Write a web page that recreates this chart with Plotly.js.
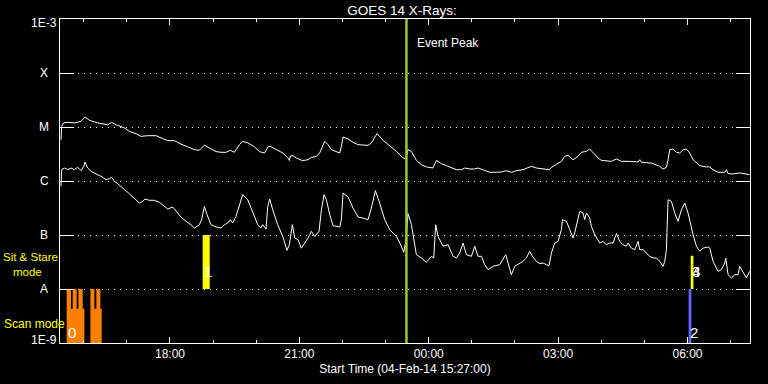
<!DOCTYPE html>
<html>
<head>
<meta charset="utf-8">
<script src="https://cdn.plot.ly/plotly-3.0.1.min.js"></script>
<style>html,body{margin:0;padding:0;background:#000;}#chart{width:768px;height:384px;}</style>
</head>
<body>
<div id="chart"></div>
<script>
// ---- data (time in minutes after start 2014-02-04 15:27:00 UT, flux in W/m^2) ----
const startTime = '2014-02-04 15:27:00';
const endTime = '2014-02-05 07:27:00';
const eventPeakTime = '2014-02-04 23:29:00';

const longMin = [1.4, 2.4, 5.1, 10.7, 20.0, 29.3, 34.8, 40.9, 52.5, 66.4, 72.0, 78.0, 89.6, 96.5, 105.8, 112.7, 122.0, 133.6, 140.6, 149.9, 159.1, 168.4, 177.7, 187.0, 193.9, 200.9, 207.8, 217.1, 224.1, 231.0, 237.0, 242.6, 249.6, 254.2, 261.2, 270.4, 277.4, 284.4, 290.0, 293.6, 302.9, 309.9, 316.9, 319.1, 320.5, 324.2, 328.9, 337.2, 345.1, 349.7, 356.7, 361.3, 368.3, 372.9, 377.6, 389.2, 391.5, 393.8, 400.8, 407.7, 414.7, 428.6, 433.2, 441.1, 449.5, 458.7, 468.0, 476.4, 481.0, 484.3, 488.9, 495.8, 502.8, 509.8, 519.0, 523.7, 530.6, 537.6, 544.5, 551.5, 558.4, 563.1, 570.1, 577.0, 581.6, 588.6, 597.9, 607.2, 614.1, 621.1, 628.0, 635.0, 639.6, 644.2, 648.9, 655.8, 662.8, 672.1, 680.4, 686.0, 692.9, 697.6, 702.2, 706.9, 713.8, 720.8, 725.4, 732.4, 737.0, 741.6, 748.6, 753.2, 760.2, 767.1, 774.1, 781.1, 792.7, 804.2, 806.6, 808.9, 822.8, 829.8, 834.4, 839.0, 843.7, 846.0, 848.3, 853.0, 857.6, 862.2, 866.9, 871.5, 876.1, 880.8, 890.0, 899.3, 903.9, 908.6, 915.6, 924.8, 927.2, 929.5, 936.5, 945.8, 955.0, 959.6];
const longFlux = [5.8e-6, 1.03e-5, 1.19e-5, 1.22e-5, 1.19e-5, 1.27e-5, 1.53e-5, 1.33e-5, 1.19e-5, 1.10e-5, 1.22e-5, 1.10e-5, 9.6e-6, 8.3e-6, 7.5e-6, 6.7e-6, 6.9e-6, 6.9e-6, 6.3e-6, 5.6e-6, 5.6e-6, 4.8e-6, 4.3e-6, 3.8e-6, 3.7e-6, 4.6e-6, 4.1e-6, 3.5e-6, 3.4e-6, 3.4e-6, 3.7e-6, 3.4e-6, 4.7e-6, 5.4e-6, 5.1e-6, 4.3e-6, 3.5e-6, 3.3e-6, 4.4e-6, 4.3e-6, 3.7e-6, 3.3e-6, 2.7e-6, 2.4e-6, 2.9e-6, 2.94e-6, 2.67e-6, 2.38e-6, 2.48e-6, 2.74e-6, 2.86e-6, 3.30e-6, 5.43e-6, 4.71e-6, 3.80e-6, 3.30e-6, 4.39e-6, 6.53e-6, 6.0e-6, 5.2e-6, 4.71e-6, 4.57e-6, 5.06e-6, 7.53e-6, 5.66e-6, 4.51e-6, 3.54e-6, 2.74e-6, 2.56e-6, 3.80e-6, 3.54e-6, 2.41e-6, 2.01e-6, 1.82e-6, 1.74e-6, 2.41e-6, 2.09e-6, 1.92e-6, 1.74e-6, 1.62e-6, 1.62e-6, 1.74e-6, 1.67e-6, 1.67e-6, 1.74e-6, 1.62e-6, 1.45e-6, 1.45e-6, 1.47e-6, 1.55e-6, 1.45e-6, 1.55e-6, 1.58e-6, 1.62e-6, 1.72e-6, 1.87e-6, 1.74e-6, 1.69e-6, 1.62e-6, 1.87e-6, 2.15e-6, 2.31e-6, 2.86e-6, 2.99e-6, 2.48e-6, 2.86e-6, 3.40e-6, 3.54e-6, 3.91e-6, 3.30e-6, 2.67e-6, 2.41e-6, 2.38e-6, 2.31e-6, 2.56e-6, 2.31e-6, 2.31e-6, 2.25e-6, 2.48e-6, 2.22e-6, 2.15e-6, 2.01e-6, 1.87e-6, 1.67e-6, 1.79e-6, 2.48e-6, 3.80e-6, 3.91e-6, 3.40e-6, 3.30e-6, 3.80e-6, 3.91e-6, 3.30e-6, 2.48e-6, 1.92e-6, 1.82e-6, 1.82e-6, 1.62e-6, 1.45e-6, 1.45e-6, 1.62e-6, 1.37e-6, 1.35e-6, 1.41e-6, 1.35e-6, 1.31e-6];

const shortMin = [1.4, 2.4, 6.1, 10.7, 15.4, 20.0, 24.6, 29.3, 33.0, 34.8, 38.5, 43.2, 50.1, 57.1, 64.1, 68.7, 71.9, 75.6, 80.3, 84.9, 89.6, 96.5, 103.5, 110.4, 115.1, 118.3, 124.3, 131.3, 138.3, 145.2, 149.9, 156.8, 161.5, 168.4, 175.4, 182.3, 187.0, 193.9, 197.1, 200.9, 204.6, 210.1, 217.1, 224.1, 228.7, 233.3, 237.0, 240.3, 244.9, 249.6, 254.2, 261.2, 268.1, 275.1, 279.7, 282.0, 286.7, 289.0, 291.8, 295.9, 302.9, 309.9, 315.9, 319.1, 323.3, 326.6, 331.2, 335.8, 340.5, 345.1, 349.7, 354.4, 360.4, 363.7, 367.4, 370.6, 375.3, 379.9, 389.2, 391.5, 393.8, 400.8, 407.7, 414.7, 421.6, 428.6, 433.2, 438.8, 444.8, 451.8, 458.7, 468.0, 475.0, 478.2, 481.0, 484.3, 488.9, 495.8, 502.8, 509.8, 516.7, 520.0, 522.7, 526.0, 532.9, 539.9, 546.9, 551.5, 556.1, 560.8, 565.4, 572.4, 577.0, 581.6, 586.3, 590.9, 595.6, 602.5, 611.8, 620.1, 623.4, 628.0, 632.7, 639.6, 644.2, 648.9, 653.5, 657.2, 662.8, 667.4, 672.1, 676.7, 680.4, 683.7, 688.3, 692.9, 697.6, 699.0, 704.5, 709.2, 713.8, 716.1, 720.8, 723.1, 727.7, 730.0, 732.4, 737.0, 739.3, 744.0, 750.9, 755.6, 760.2, 764.8, 769.5, 774.1, 778.7, 783.4, 788.0, 790.3, 795.0, 799.6, 804.3, 806.6, 811.2, 815.9, 820.5, 825.1, 829.8, 834.4, 839.0, 841.4, 843.7, 846.0, 850.6, 855.3, 859.9, 864.6, 869.2, 873.8, 878.5, 880.8, 885.4, 890.1, 894.7, 901.6, 904.0, 908.6, 915.6, 920.2, 924.9, 926.2, 929.5, 934.1, 938.8, 943.4, 945.7, 950.4, 955.0, 959.6];
const shortFlux = [7.96e-7, 1.62e-6, 1.74e-6, 1.62e-6, 1.74e-6, 1.62e-6, 1.79e-6, 1.55e-6, 1.87e-6, 2.25e-6, 1.74e-6, 1.51e-6, 1.35e-6, 1.22e-6, 1.06e-6, 1.10e-6, 1.17e-6, 9.86e-7, 8.93e-7, 7.74e-7, 6.91e-7, 5.83e-7, 4.84e-7, 3.91e-7, 4.20e-7, 4.64e-7, 4.39e-7, 4.39e-7, 4.03e-7, 3.40e-7, 3.03e-7, 3.30e-7, 2.74e-7, 2.15e-7, 1.79e-7, 1.55e-7, 1.35e-7, 1.55e-7, 1.92e-7, 3.40e-7, 2.38e-7, 1.55e-7, 1.41e-7, 1.35e-7, 1.55e-7, 1.67e-7, 1.92e-7, 1.67e-7, 2.22e-7, 3.65e-7, 5.58e-7, 4.51e-7, 2.74e-7, 1.55e-7, 1.35e-7, 1.55e-7, 1.29e-7, 3.40e-7, 4.64e-7, 2.94e-7, 1.55e-7, 9.4e-8, 5.2e-8, 6.6e-8, 1.55e-7, 8.8e-8, 8.2e-8, 5.7e-8, 7.1e-8, 8.8e-8, 1.17e-7, 9.4e-8, 1.17e-7, 2.94e-7, 5.58e-7, 4.51e-7, 2.38e-7, 1.49e-7, 1.41e-7, 1.92e-7, 6.0e-7, 5.06e-7, 3.16e-7, 2.15e-7, 2.06e-7, 1.92e-7, 3.16e-7, 6.62e-7, 3.91e-7, 1.92e-7, 1.26e-7, 9.4e-8, 6.2e-8, 4.78e-8, 7.6e-8, 2.48e-7, 1.55e-7, 4.32e-8, 3.75e-8, 3.12e-8, 4.03e-8, 3.75e-8, 1.55e-7, 9.4e-8, 6.2e-8, 6.6e-8, 4.03e-8, 3.75e-8, 4.64e-8, 7.1e-8, 4.32e-8, 4.03e-8, 6.2e-8, 4.03e-8, 4.03e-8, 2.82e-8, 2.28e-8, 2.63e-8, 2.82e-8, 4.32e-8, 3.03e-8, 1.84e-8, 2.63e-8, 3.03e-8, 3.25e-8, 3.75e-8, 4.99e-8, 4.03e-8, 3.25e-8, 2.94e-8, 3.03e-8, 2.82e-8, 2.71e-8, 4.64e-8, 7.1e-8, 7.6e-8, 1.26e-7, 1.92e-7, 1.79e-7, 1.26e-7, 8.8e-8, 1.09e-7, 1.92e-7, 2.74e-7, 2.56e-7, 1.92e-7, 2.56e-7, 2.06e-7, 1.45e-7, 1.01e-7, 7.1e-8, 7.6e-8, 6.6e-8, 7.1e-8, 7.1e-8, 1.06e-7, 7.6e-8, 6.6e-8, 6.2e-8, 7.1e-8, 5.7e-8, 5.35e-8, 7.6e-8, 5.35e-8, 5.35e-8, 4.64e-8, 4.03e-8, 3.75e-8, 3.75e-8, 3.25e-8, 2.63e-8, 3.25e-8, 5.35e-8, 4.51e-7, 4.20e-7, 2.56e-7, 1.79e-7, 2.94e-7, 3.91e-7, 2.56e-7, 1.35e-7, 1.01e-7, 6.2e-8, 4.99e-8, 5.7e-8, 6.0e-8, 5.7e-8, 3.25e-8, 2.12e-8, 2.28e-8, 3.03e-8, 3.75e-8, 1.84e-8, 1.60e-8, 1.84e-8, 1.84e-8, 2.63e-8, 1.98e-8, 1.60e-8, 2.12e-8];

// observing-mode blocks: start/end minute, top flux (bottom is 1E-9)
const scanStart = [9.3, 17.7, 25.6, 42.3, 50.6, 9.3, 42.3];
const scanEnd   = [15.3, 23.2, 31.6, 47.9, 56.2, 33.9, 58.0];
const scanTop   = [1e-8, 1e-8, 1e-8, 1e-8, 1e-8, 4.3e-9, 4.3e-9];
const sitStart = [198.5, 877.5, 880.5];
const sitEnd   = [208.3, 881.3, 881.3];
const sitBottom = [1e-8, 1e-8, 1e-8];
const sitTop   = [1e-7, 4.14e-8, 8.4e-8];
const scan2Start = [874.6];
const scan2End = [878.5];
const scan2Top = [1e-8];

// event numbers
const eventIds = ['0', '1', '2', '3', '4'];
const eventStartMin = [9.3, 198.5, 874.6, 877.5, 877.5];
const eventLabelFlux = [1.58e-9, 2.14e-8, 1.58e-9, 2.14e-8, 2.14e-8];

// y axis
const yTickVals = [1e-3, 1e-4, 1e-5, 1e-6, 1e-7, 1e-8, 1e-9];
const yTickText = ['1E-3', 'X', 'M', 'C', 'B', 'A', '1E-9'];

// ---- build ----
const START = Date.UTC(2014, 1, 4, 15, 27, 0);
function toDate(m) { return new Date(START + m * 60000).toISOString().slice(0, 19).replace('T', ' '); }

function blocks(starts, ends, bottoms, tops) {
  const x = [], y = [];
  for (let i = 0; i < starts.length; i++) {
    const s = toDate(starts[i]), e = toDate(ends[i]);
    const b = bottoms ? bottoms[i] : 1e-9;
    x.push(s, s, e, e, s, null);
    y.push(b, tops[i], tops[i], b, b, null);
  }
  return {x, y};
}

const scanB = blocks(scanStart, scanEnd, null, scanTop);
const sitB = blocks(sitStart, sitEnd, sitBottom, sitTop);
const scan2B = blocks(scan2Start, scan2End, null, scan2Top);

const traces = [
  {x: scanB.x, y: scanB.y, type: 'scatter', mode: 'lines', fill: 'toself', fillcolor: '#FF8000', line: {width: 0, color: '#FF8000'}, hoverinfo: 'skip'},
  {x: sitB.x, y: sitB.y, type: 'scatter', mode: 'lines', fill: 'toself', fillcolor: '#FFFF00', line: {width: 0, color: '#FFFF00'}, hoverinfo: 'skip'},
  {x: scan2B.x, y: scan2B.y, type: 'scatter', mode: 'lines', fill: 'toself', fillcolor: '#6464FF', line: {width: 0, color: '#6464FF'}, hoverinfo: 'skip'},
  {x: longMin.map(toDate), y: longFlux, type: 'scatter', mode: 'lines', line: {color: '#FFFFFF', width: 1}},
  {x: shortMin.map(toDate), y: shortFlux, type: 'scatter', mode: 'lines', line: {color: '#FFFFFF', width: 1}},
  {x: [eventPeakTime, eventPeakTime], y: [1e-9, 1e-3], type: 'scatter', mode: 'lines', line: {color: '#9ACD32', width: 2.5}}
];

const font = 'Liberation Sans, Arial, sans-serif';
const annotations = [];
yTickText.forEach((t, i) => {
  annotations.push({xref: 'paper', x: (44 - 60) / 690, xanchor: 'center', yref: 'y', y: Math.log10(yTickVals[i]),
    yanchor: 'middle', text: t, showarrow: false, font: {family: font, size: 12, color: '#FFFFFF'},
    yshift: i === 0 ? -4 : (i === yTickText.length - 1 ? 3 : 0)});
});
annotations.push({xref: 'paper', x: (2 - 60) / 690, xanchor: 'left', yref: 'y', y: -7.411, yanchor: 'middle', text: 'Sit & Stare', showarrow: false, borderpad: 0, font: {family: font, size: 11.5, color: '#FFFF00'}});
annotations.push({xref: 'paper', x: (12 - 60) / 690, xanchor: 'left', yref: 'y', y: -7.68, yanchor: 'middle', text: 'mode', showarrow: false, borderpad: 0, font: {family: font, size: 11.5, color: '#FFFF00'}});
annotations.push({xref: 'paper', x: (2 - 60) / 690, xanchor: 'left', yref: 'y', y: -8.64, yanchor: 'middle', text: 'Scan mode', showarrow: false, font: {family: font, size: 12, color: '#FFFF00'}});
annotations.push({xref: 'x', x: eventPeakTime, xanchor: 'left', xshift: 9, yref: 'paper', y: (343 - 43) / 324, yanchor: 'middle', text: 'Event Peak', showarrow: false, font: {family: font, size: 12, color: '#FFFFFF'}});
eventIds.forEach((id, i) => {
  annotations.push({xref: 'x', x: toDate(eventStartMin[i]), xanchor: 'left', xshift: -1, yref: 'y', y: Math.log10(eventLabelFlux[i]), yanchor: 'middle', text: id, showarrow: false, font: {family: font, size: 15, color: '#FFFFFF'}});
});

const layout = {
  width: 768, height: 384,
  paper_bgcolor: '#000000', plot_bgcolor: '#000000',
  margin: {l: 60, r: 18, t: 19, b: 41, pad: 0},
  showlegend: false,
  hovermode: false,
  font: {family: font, color: '#FFFFFF', size: 12},
  title: {text: 'GOES 14 X-Rays:', font: {family: font, size: 13.5, color: '#FFFFFF'}, xref: 'container', x: 402 / 768, xanchor: 'center', yref: 'container', y: 1 - 10 / 384, yanchor: 'middle'},
  xaxis: {
    type: 'date', range: [startTime, endTime], showline: true, linecolor: '#FFFFFF', linewidth: 1, mirror: 'ticks',
    ticks: 'inside', ticklen: 6, tickcolor: '#FFFFFF', tickwidth: 1,
    tick0: '2014-02-04 18:00:00', dtick: 3 * 3600000, tickformat: '%H:%M',
    minor: {ticks: 'inside', ticklen: 3, dtick: 3600000, tick0: '2014-02-04 16:00:00', tickcolor: '#FFFFFF', showgrid: false},
    showgrid: false, zeroline: false, fixedrange: true,
    tickfont: {family: font, size: 12, color: '#FFFFFF'},
    title: {text: 'Start Time (04-Feb-14 15:27:00)', font: {family: font, size: 12, color: '#FFFFFF'}, standoff: 4}
  },
  yaxis: {
    type: 'log', range: [-9, -3], showline: true, linecolor: '#FFFFFF', linewidth: 1, mirror: 'ticks',
    ticks: 'inside', ticklen: 14, tickcolor: '#FFFFFF', tickwidth: 1,
    tickmode: 'array', tickvals: yTickVals, showticklabels: false,
    showgrid: true, gridcolor: '#FFFFFF', gridwidth: 1, griddash: '1px,5px', zeroline: false, fixedrange: true
  },
  annotations: annotations
};

Plotly.newPlot('chart', traces, layout, {staticPlot: true, displayModeBar: false});
</script>
</body>
</html>
